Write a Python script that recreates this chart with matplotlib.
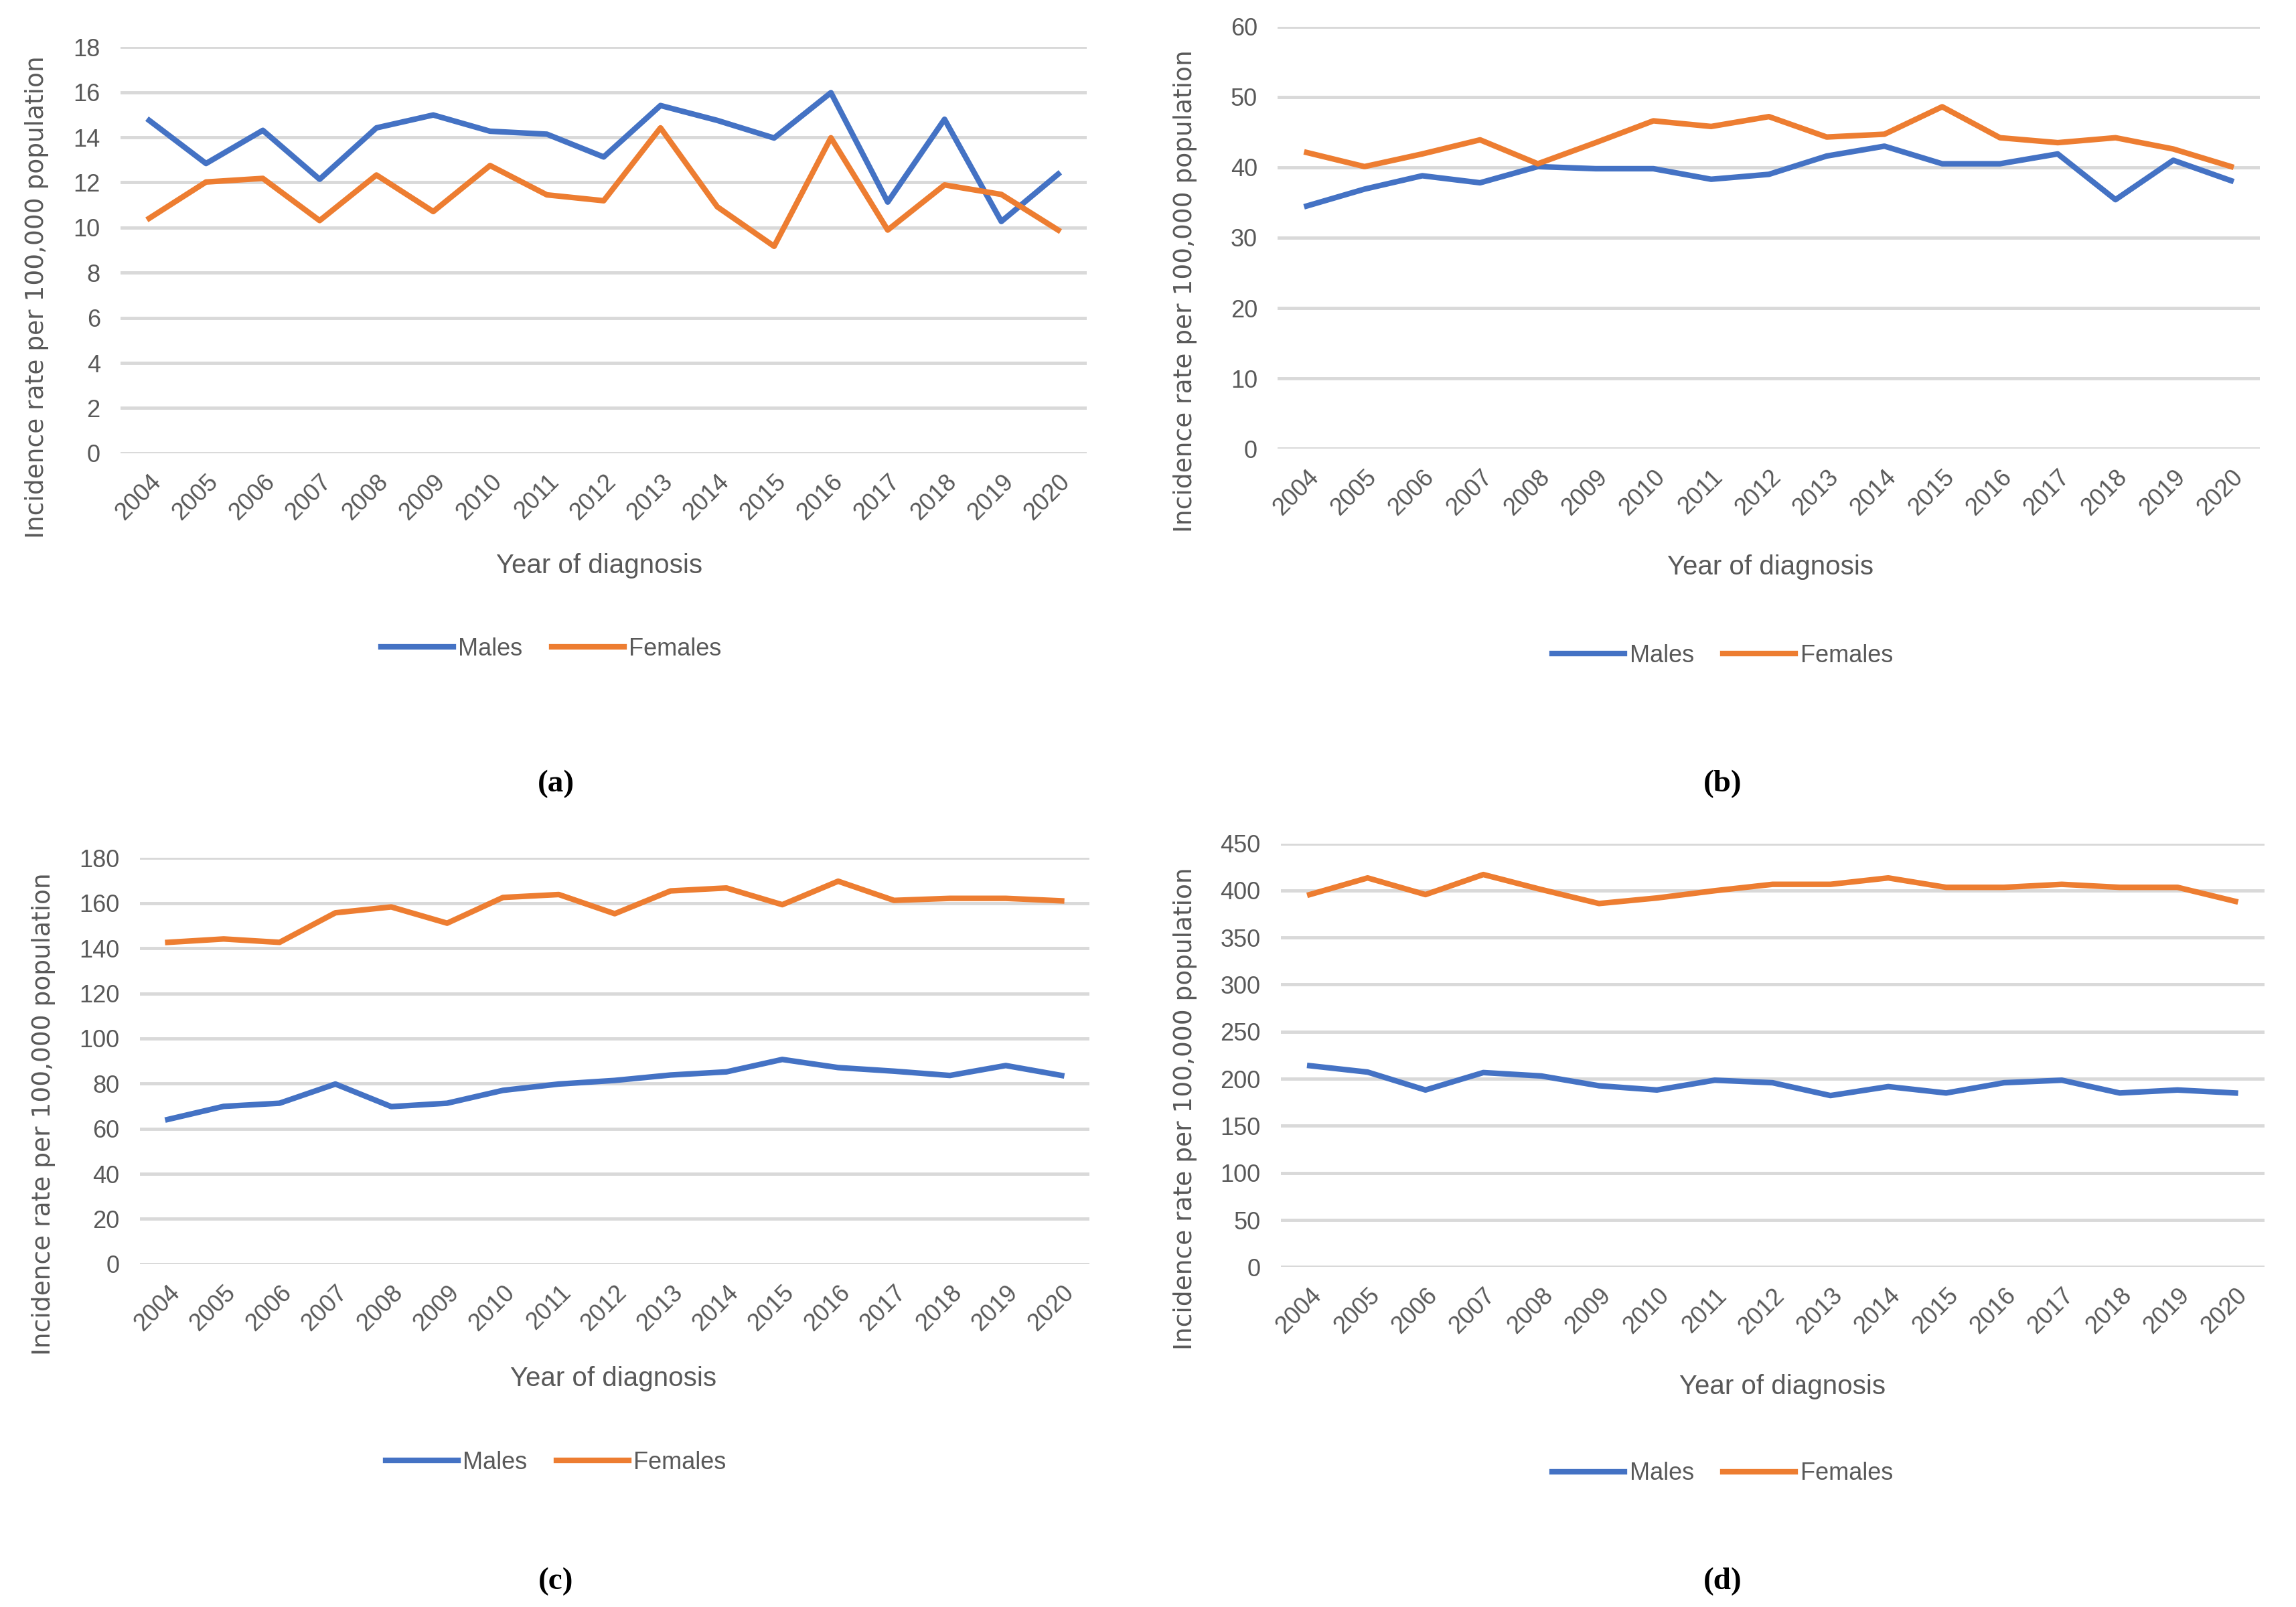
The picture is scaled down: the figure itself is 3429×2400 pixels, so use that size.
import numpy as np
import matplotlib
matplotlib.use('Agg')
import matplotlib.pyplot as plt

years = [str(y) for y in range(2004, 2021)]

# panel (a)
males_a = [14.75, 12.84, 14.31, 12.14, 14.42, 14.99, 14.27, 14.14, 13.13,
           15.41, 14.75, 13.97, 15.98, 11.13, 14.80, 10.27, 12.37]
females_a = [10.41, 12.02, 12.18, 10.31, 12.33, 10.71, 12.75, 11.45, 11.19,
             14.42, 10.92, 9.17, 13.98, 9.89, 11.89, 11.47, 9.89]

# panel (b)
males_b = [34.5, 36.9, 38.8, 37.8, 40.1, 39.8, 39.8, 38.3, 39.0,
           41.6, 43.0, 40.5, 40.5, 41.9, 35.4, 41.0, 38.1]
females_b = [42.1, 40.1, 41.9, 43.9, 40.5, 43.5, 46.6, 45.8, 47.2,
             44.3, 44.7, 48.6, 44.2, 43.5, 44.2, 42.6, 40.1]

# panel (c)
males_c = [64.1, 69.9, 71.3, 79.8, 69.8, 71.3, 77.0, 79.8, 81.4,
           83.8, 85.2, 90.7, 87.1, 85.5, 83.6, 88.0, 83.6]
females_c = [142.6, 144.1, 142.6, 155.7, 158.3, 151.1, 162.5, 163.8, 155.3,
             165.4, 166.7, 159.3, 169.7, 161.2, 162.1, 162.1, 161.0]

# panel (d)
males_d = [213.9, 207.1, 188.1, 206.6, 203.0, 192.6, 188.1, 198.5, 195.8,
           182.2, 191.7, 184.9, 195.8, 198.5, 184.9, 188.1, 184.9]
females_d = [395.6, 413.3, 395.6, 416.9, 401.0, 386.1, 392.0, 399.7, 406.5,
             406.5, 413.3, 403.3, 403.3, 406.5, 403.3, 403.3, 388.4]

yticks_a = np.arange(0, 19, 2)
yticks_b = np.arange(0, 61, 10)
yticks_c = np.arange(0, 181, 20)
yticks_d = np.arange(0, 451, 50)

BLUE = '#4472C4'
ORANGE = '#ED7D31'
GRID = '#D9D9D9'
TXT = '#595959'
NARROW = ['Liberation Sans Narrow', 'Liberation Sans', 'DejaVu Sans']

# rect, ylabel xy, xlabel xy, legend xy, tag xy (figure fractions)
panels = [
    (males_a, females_a, yticks_a, '(a)',
     [0.0526, 0.718, 0.4205, 0.2527], (0.016, 0.815), (0.261, 0.648), (0.240, 0.596), (0.242, 0.512)),
    (males_b, females_b, yticks_b, '(b)',
     [0.5564, 0.7207, 0.4276, 0.2628], (0.516, 0.819), (0.771, 0.647), (0.750, 0.592), (0.750, 0.512)),
    (males_c, females_c, yticks_c, '(c)',
     [0.0609, 0.2134, 0.4135, 0.2527], (0.019, 0.307), (0.267, 0.142), (0.242, 0.090), (0.242, 0.016)),
    (males_d, females_d, yticks_d, '(d)',
     [0.5577, 0.2115, 0.4282, 0.2637], (0.516, 0.310), (0.776, 0.137), (0.750, 0.083), (0.750, 0.016)),
]

fig = plt.figure(figsize=(34.3, 24), dpi=100)

for m, f, yt, tag, rect, ylxy, xlxy, lgxy, tagxy in panels:
    ax = fig.add_axes(rect)
    x = np.arange(len(years))
    ax.plot(x, m, color=BLUE, lw=6, label='Males', solid_joinstyle='round')
    ax.plot(x, f, color=ORANGE, lw=6, label='Females', solid_joinstyle='round')
    ax.set_xlim(-0.5, len(years) - 0.5)
    ax.set_ylim(yt[0], yt[-1])
    ax.set_yticks(yt)
    ax.set_xticks(x)
    ax.set_xticklabels(years, rotation=45, ha='right', rotation_mode='anchor')
    for s in ax.spines.values():
        s.set_visible(False)
    ax.grid(axis='y', color=GRID, lw=3.5)
    ax.set_axisbelow(True)
    ax.tick_params(length=0, labelsize=26, labelcolor=TXT, pad=18)
    ax.tick_params(axis='y', pad=22)
    for lab in ax.get_xticklabels() + ax.get_yticklabels():
        lab.set_family(NARROW)

    ax.set_ylabel('Incidence rate per 100,000 population', fontsize=27,
                  color=TXT, family='DejaVu Sans')
    ax.yaxis.set_label_coords(ylxy[0], ylxy[1], transform=fig.transFigure)
    ax.yaxis.label.set_va('center')
    ax.set_xlabel('Year of diagnosis', fontsize=29, color=TXT, family=NARROW)
    ax.xaxis.set_label_coords(xlxy[0], xlxy[1], transform=fig.transFigure)
    ax.xaxis.label.set_va('center')

    leg = ax.legend(loc='center', bbox_to_anchor=lgxy, bbox_transform=fig.transFigure,
                    ncol=2, frameon=False, fontsize=26, handlelength=3,
                    columnspacing=1.2, handletextpad=0.2)
    for t in leg.get_texts():
        t.set_color(TXT)
        t.set_family(NARROW)

    fig.text(tagxy[0], tagxy[1], tag, ha='center', va='center', fontsize=34,
             fontweight='bold', family='Liberation Serif')

fig.savefig('out.png', dpi=100, facecolor='white')
